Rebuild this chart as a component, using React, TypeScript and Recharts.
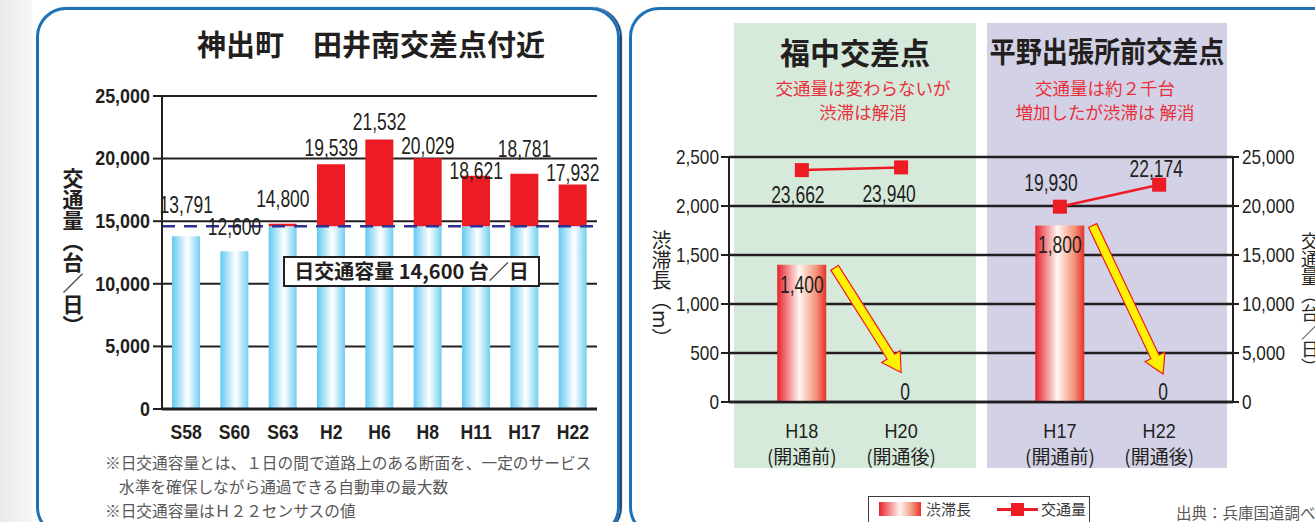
import React from 'react'
import {
  Bar,
  ComposedChart,
  Line,
  XAxis,
  YAxis,
  CartesianGrid,
  ReferenceLine,
  LabelList,
} from 'recharts'

// left panel: 神出町 田井南交差点付近
const YEARS = ['S58', 'S60', 'S63', 'H2', 'H6', 'H8', 'H11', 'H17', 'H22']
const VOLUME = [13791, 12600, 14800, 19539, 21532, 20029, 18621, 18781, 17932]
const CAPACITY = 14600
const VOLUME_TICKS = [0, 5000, 10000, 15000, 20000, 25000]

// right panel: 福中 / 平野出張所前
const SITES = ['H18', 'H20', 'H17', 'H22']
const PHASES = ['(開通前)', '(開通後)', '(開通前)', '(開通後)']
const SLOTS = [1, 2, 3.6, 4.6]
const GROUPS = [0, 0, 1, 1]
const JAM = [1400, 0, 1800, 0]
const TRAFFIC = [23662, 23940, 19930, 22174]
const JAM_TICKS = [0, 500, 1000, 1500, 2000, 2500]
const TRAFFIC_TICKS = [0, 5000, 10000, 15000, 20000, 25000]

// annotation arrows, in chart units (slot, 渋滞長)
const ARROWS = [
  { from: [1.33, 1370], to: [2.0, 300] },
  { from: [3.93, 1800], to: [4.64, 285] },
]

// label nudges (px)
const VOLUME_LABEL_DY = [-31, -24, -25, -16, -17, -12, -5, -25, -11]
const TRAFFIC_LABEL_OFFSET = [[-4, 25], [-12, 27], [-9, -24], [-3, -16]]

const NUM = "'Liberation Sans', Arial, sans-serif"
const JP = "'Noto Sans CJK JP', 'Noto Sans', sans-serif"
const INK = '#231f20'
const RED = '#ed1c24'

const fmt = (v: number) => v.toLocaleString('en-US')

const volumeRows = YEARS.map((year, i) => ({
  year,
  base: Math.min(VOLUME[i], CAPACITY),
  over: Math.max(0, VOLUME[i] - CAPACITY),
  total: VOLUME[i],
}))

const crossRows = SITES.map((site, i) => ({
  site,
  slot: SLOTS[i],
  jam: JAM[i],
  fukunaka: GROUPS[i] === 0 ? TRAFFIC[i] : null,
  hirano: GROUPS[i] === 1 ? TRAFFIC[i] : null,
}))

// condensed-looking numbers: squeeze a regular sans horizontally
function Narrow(p: {
  x: number
  y: number
  text: string
  size: number
  sx: number
  weight?: number
  anchor?: 'start' | 'middle' | 'end'
  baseline?: string
}) {
  return (
    <text
      transform={`translate(${p.x},${p.y}) scale(${p.sx},1)`}
      textAnchor={p.anchor || 'middle'}
      dominantBaseline={(p.baseline as any) || 'central'}
      fontFamily={NUM}
      fontSize={p.size}
      fontWeight={p.weight || 400}
      fill={INK}
    >
      {p.text}
    </text>
  )
}

function VolumeLabel(props: any) {
  const { x, y, index } = props
  if (x == null || y == null) return <g />
  return <Narrow x={Number(x)} y={Number(y) + VOLUME_LABEL_DY[index]} text={fmt(VOLUME[index])} size={23} sx={0.76} />
}

function JamLabel(props: any) {
  const { x, y, value } = props
  if (x == null || y == null) return <g />
  if (!value) return <Narrow x={Number(x) + 4} y={Number(y) - 10} text="0" size={23} sx={0.76} />
  return <Narrow x={Number(x)} y={Number(y) + 20} text={fmt(value)} size={23} sx={0.76} />
}

function TrafficLabel(props: any) {
  const { x, y, value, index } = props
  if (value == null || x == null || y == null) return <g />
  const [dx, dy] = TRAFFIC_LABEL_OFFSET[index]
  return <Narrow x={Number(x) + dx} y={Number(y) + dy} text={fmt(value)} size={23} sx={0.76} />
}

function SquareDot(props: any) {
  const { cx, cy, value } = props
  if (value == null || cx == null || cy == null) return <g key={props.index} />
  return <rect key={props.index} x={cx - 7} y={cy - 7} width={14} height={14} fill={RED} />
}

function YearTick(props: any) {
  const { x, y, payload } = props
  return <Narrow x={x} y={y + 30} text={payload.value} size={20} sx={0.88} weight={700} baseline="auto" />
}

function VolumeTick(props: any) {
  const { x, y, payload } = props
  return <Narrow x={x} y={y} text={fmt(payload.value)} size={19.5} sx={0.92} weight={700} anchor="end" />
}

function JamTick(props: any) {
  const { x, y, payload } = props
  return <Narrow x={x} y={y} text={fmt(payload.value)} size={20} sx={0.86} anchor="end" />
}

function TrafficTick(props: any) {
  const { x, y, payload } = props
  return <Narrow x={x} y={y} text={fmt(payload.value)} size={20} sx={0.86} anchor="start" />
}

function SiteTick(props: any) {
  const { x, y, payload } = props
  const i = SLOTS.indexOf(payload.value)
  if (i < 0) return <g />
  return (
    <g>
      <Narrow x={x} y={y + 36} text={SITES[i]} size={21} sx={0.86} baseline="auto" />
      <text x={x} y={y + 62} textAnchor="middle" fontFamily={JP} fontSize={19} fill={INK}>
        {PHASES[i]}
      </text>
    </g>
  )
}

function ArrowShape(props: any) {
  const { x1, y1, x2, y2 } = props
  const dx = x2 - x1
  const dy = y2 - y1
  const len = Math.hypot(dx, dy) || 1
  const ux = dx / len
  const uy = dy / len
  const nx = -uy
  const ny = ux
  const shaft = 4.5
  const head = 11
  const headLen = 19
  const bx = x2 - ux * headLen
  const by = y2 - uy * headLen
  const pts = [
    [x1 + nx * shaft, y1 + ny * shaft],
    [bx + nx * shaft, by + ny * shaft],
    [bx + nx * head, by + ny * head],
    [x2, y2],
    [bx - nx * head, by - ny * head],
    [bx - nx * shaft, by - ny * shaft],
    [x1 - nx * shaft, y1 - ny * shaft],
  ]
  return (
    <polygon
      points={pts.map(p => p.join(',')).join(' ')}
      fill="#fff200"
      stroke={RED}
      strokeWidth={1.2}
    />
  )
}

const abs = (left: number, top: number, extra: React.CSSProperties = {}): React.CSSProperties => ({
  position: 'absolute',
  left,
  top,
  ...extra,
})

function VolumeChart() {
  return (
    <ComposedChart
      width={620}
      height={460}
      data={volumeRows}
      margin={{ top: 96, right: 23, bottom: 0, left: 0 }}
      barCategoryGap={0}
    >
      <defs>
        <linearGradient id="blueBar" x1="0" y1="0" x2="1" y2="0">
          <stop offset="0%" stopColor="#62c9f1" />
          <stop offset="55%" stopColor="#ffffff" />
          <stop offset="100%" stopColor="#72cff3" />
        </linearGradient>
      </defs>
      <CartesianGrid vertical={false} stroke={INK} strokeWidth={2} />
      <XAxis
        dataKey="year"
        height={51}
        tickLine={false}
        tickSize={0}
        tickMargin={0}
        axisLine={{ stroke: INK, strokeWidth: 3 }}
        tick={YearTick}
        interval={0}
      />
      <YAxis
        width={162}
        domain={[0, 25000]}
        ticks={VOLUME_TICKS}
        tickSize={9}
        tickMargin={3}
        tickLine={{ stroke: INK, strokeWidth: 2 }}
        axisLine={{ stroke: INK, strokeWidth: 2 }}
        tick={VolumeTick}
      />
      <YAxis
        yAxisId="frame"
        orientation="right"
        width={0}
        domain={[0, 25000]}
        tick={false}
        tickLine={false}
        axisLine={{ stroke: INK, strokeWidth: 2 }}
      />
      <Bar dataKey="base" stackId="v" fill="url(#blueBar)" barSize={28} isAnimationActive={false} />
      <Bar dataKey="over" stackId="v" fill={RED} barSize={28} isAnimationActive={false} />
      <ReferenceLine y={CAPACITY} stroke="#2e3192" strokeWidth={2.5} strokeDasharray="13 9" />
      <Line
        dataKey="total"
        stroke="none"
        dot={false}
        activeDot={false}
        legendType="none"
        isAnimationActive={false}
      >
        <LabelList dataKey="total" content={VolumeLabel} />
      </Line>
    </ComposedChart>
  )
}

function CrossingChart() {
  return (
    <ComposedChart
      width={695}
      height={470}
      data={crossRows}
      margin={{ top: 157, right: 0, bottom: 0, left: 0 }}
    >
      <defs>
        <linearGradient id="jamBar" x1="0" y1="0" x2="1" y2="0">
          <stop offset="0%" stopColor="#e6222a" />
          <stop offset="45%" stopColor="#fff6f2" />
          <stop offset="80%" stopColor="#f39278" />
          <stop offset="100%" stopColor="#e8302a" />
        </linearGradient>
      </defs>
      <CartesianGrid yAxisId="jam" vertical={false} stroke={INK} strokeWidth={2.5} />
      <XAxis
        dataKey="slot"
        type="number"
        domain={[0.266, 5.344]}
        allowDataOverflow
        ticks={SLOTS}
        interval={0}
        height={68}
        tickLine={false}
        tickSize={0}
        tickMargin={0}
        axisLine={{ stroke: INK, strokeWidth: 2.5 }}
        tick={SiteTick}
      />
      <YAxis
        yAxisId="jam"
        width={109}
        domain={[0, 2500]}
        ticks={JAM_TICKS}
        tickSize={8}
        tickMargin={2}
        tickLine={{ stroke: INK, strokeWidth: 2 }}
        axisLine={{ stroke: INK, strokeWidth: 2 }}
        tick={JamTick}
      />
      <YAxis
        yAxisId="traffic"
        orientation="right"
        width={82}
        domain={[0, 25000]}
        ticks={TRAFFIC_TICKS}
        tickSize={6}
        tickMargin={3}
        tickLine={{ stroke: INK, strokeWidth: 2 }}
        axisLine={{ stroke: INK, strokeWidth: 2 }}
        tick={TrafficTick}
      />
      <Bar yAxisId="jam" dataKey="jam" fill="url(#jamBar)" barSize={49} isAnimationActive={false} />
      <Line
        yAxisId="jam"
        dataKey="jam"
        stroke="none"
        dot={false}
        activeDot={false}
        legendType="none"
        isAnimationActive={false}
      >
        <LabelList dataKey="jam" content={JamLabel} />
      </Line>
      {ARROWS.map((a, i) => (
        <ReferenceLine
          key={i}
          yAxisId="jam"
          segment={[{ x: a.from[0], y: a.from[1] }, { x: a.to[0], y: a.to[1] }]}
          shape={ArrowShape}
        />
      ))}
      <Line
        yAxisId="traffic"
        dataKey="fukunaka"
        stroke={RED}
        strokeWidth={2.5}
        dot={SquareDot}
        activeDot={false}
        connectNulls={false}
        isAnimationActive={false}
      >
        <LabelList dataKey="fukunaka" content={TrafficLabel} />
      </Line>
      <Line
        yAxisId="traffic"
        dataKey="hirano"
        stroke={RED}
        strokeWidth={2.5}
        dot={SquareDot}
        activeDot={false}
        connectNulls={false}
        isAnimationActive={false}
      >
        <LabelList dataKey="hirano" content={TrafficLabel} />
      </Line>
    </ComposedChart>
  )
}

export default function App() {
  const panelBorder: React.CSSProperties = {
    border: '3px solid #1b72b8',
    borderRadius: 30,
    boxSizing: 'border-box',
  }
  const redNote: React.CSSProperties = {
    color: '#e8303a',
    fontSize: 17.5,
    lineHeight: '24px',
    textAlign: 'center',
    whiteSpace: 'nowrap',
  }
  return (
    <div
      style={{
        position: 'absolute',
        left: 0,
        top: 0,
        width: 1315,
        height: 522,
        overflow: 'hidden',
        background: '#fff',
        fontFamily: JP,
        color: INK,
      }}
    >
      <div style={abs(0, 0, { width: 32, height: 522, background: 'linear-gradient(to right, #e9e9e9, #f7f7f7)' })} />

      {/* left panel */}
      <div style={abs(36, 7, { width: 584, height: 530, ...panelBorder, boxShadow: '2px 0 1px #1d3f63' })} />
      <div style={abs(150, 22, { width: 442, textAlign: 'center', fontSize: 29, fontWeight: 700, whiteSpace: 'nowrap' })}>
        神出町　田井南交差点付近
      </div>
      <div style={abs(62, 168, { writingMode: 'vertical-rl', fontSize: 21, fontWeight: 700, lineHeight: '22px' })}>
        交通量（台／日）
      </div>
      <div style={abs(0, 0)}>
        <VolumeChart />
      </div>
      <div
        style={abs(283, 256, {
          width: 257,
          height: 31,
          boxSizing: 'border-box',
          border: `2.5px solid ${INK}`,
          background: '#fff',
          fontSize: 20,
          fontWeight: 700,
          lineHeight: '26px',
          textAlign: 'center',
          whiteSpace: 'nowrap',
        })}
      >
        日交通容量 14,600 台／日
      </div>
      <div style={abs(105, 451, { fontSize: 15.7, lineHeight: '24px', color: '#595757', whiteSpace: 'nowrap' })}>
        <div>※日交通容量とは、１日の間で道路上のある断面を、一定のサービス</div>
        <div style={{ paddingLeft: 14 }}>水準を確保しながら通過できる自動車の最大数</div>
        <div>※日交通容量はＨ２２センサスの値</div>
      </div>

      {/* right panel */}
      <div style={abs(629, 7, { width: 720, height: 530, ...panelBorder })} />
      <div style={abs(734, 23, { width: 242, height: 445, background: '#d6eadc' })} />
      <div style={abs(987, 23, { width: 240, height: 445, background: '#d3d1e6' })} />
      <div style={abs(734, 29, { width: 242, textAlign: 'center', fontSize: 30, fontWeight: 700, whiteSpace: 'nowrap' })}>
        福中交差点
      </div>
      <div
        style={abs(967, 29, {
          width: 280,
          textAlign: 'center',
          fontSize: 29,
          fontWeight: 700,
          whiteSpace: 'nowrap',
          transform: 'scaleX(0.9)',
        })}
      >
        平野出張所前交差点
      </div>
      <div style={abs(734, 76, { width: 258, ...redNote })}>
        <div>交通量は変わらないが</div>
        <div>渋滞は解消</div>
      </div>
      <div style={abs(987, 76, { width: 236, ...redNote })}>
        <div>交通量は約２千台</div>
        <div>増加したが渋滞は 解消</div>
      </div>
      <div style={abs(620, 0)}>
        <CrossingChart />
      </div>
      <div style={abs(650, 230, { writingMode: 'vertical-rl', fontSize: 20, lineHeight: '22px' })}>
        渋滞長（m）
      </div>
      <div style={abs(1300, 232, { writingMode: 'vertical-rl', fontSize: 18, lineHeight: '20px' })}>
        交通量（台／日）
      </div>

      {/* legend */}
      <div
        style={abs(868, 496, {
          width: 222,
          height: 34,
          boxSizing: 'border-box',
          border: '1.5px solid #3e3a39',
          background: '#fff',
        })}
      >
        <div
          style={abs(10, 5, {
            width: 42,
            height: 14,
            background: 'linear-gradient(to right, #e6222a, #fff4f0 50%, #f39278 80%, #e8302a)',
          })}
        />
        <div style={abs(57, 1, { fontSize: 15, lineHeight: '22px', color: '#3e3a39' })}>渋滞長</div>
        <div style={abs(128, 11, { width: 41, height: 3, background: RED })} />
        <div style={abs(142, 6, { width: 13, height: 13, background: RED })} />
        <div style={abs(172, 1, { fontSize: 15, lineHeight: '22px', color: '#3e3a39' })}>交通量</div>
      </div>
      <div style={abs(1176, 501, { fontSize: 15.5, lineHeight: '22px', color: '#595757', whiteSpace: 'nowrap' })}>
        出典：兵庫国道調べ
      </div>
    </div>
  )
}
